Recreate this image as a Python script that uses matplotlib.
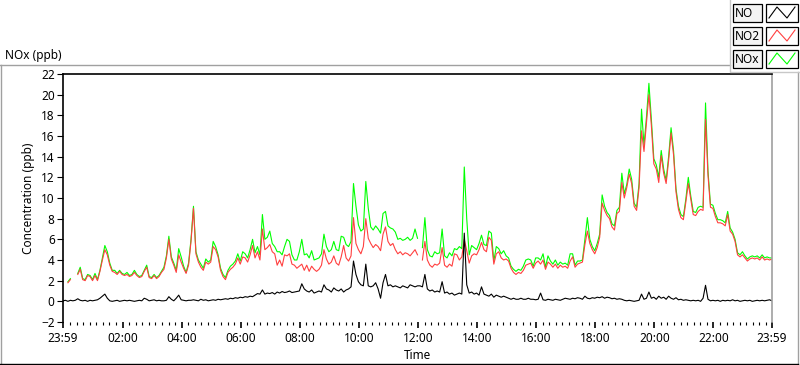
import numpy as np
import matplotlib
matplotlib.use('Agg')
import matplotlib.pyplot as plt
from matplotlib.lines import Line2D
from matplotlib.patches import Rectangle

nan = np.nan

# logger samples every 5 min, first one at 23:59 of the previous day
minutes = np.arange(289) * 5 - 1

no2 = [2.65, nan, 1.8, 2.1, nan, nan, 2.6, 3.1, 2.1, 2.0,
       2.5, 2.4, 2.0, 2.5, 2.0, 2.9, 4.0, 5.0, 4.5, 3.5,
       2.9, 2.8, 2.6, 2.9, 2.6, 2.5, 2.6, 2.4, 2.5, 2.8,
       2.5, 2.3, 2.4, 2.9, 3.3, 2.3, 2.2, 2.5, 2.2, 2.4,
       2.8, 3.1, 4.2, 6.0, 4.1, 3.5, 2.8, 4.5, 3.8, 3.2,
       2.7, 3.5, 5.8, 9.0, 4.6, 3.8, 3.3, 3.0, 3.8, 3.6,
       3.8, 5.3, 5.0, 4.3, 3.0, 2.4, 2.1, 2.8, 3.1, 3.3,
       3.6, 4.2, 3.6, 4.3, 4.2, 3.8, 4.5, 5.4, 4.2, 4.8,
       4.0, 7.0, 5.0, 5.2, 5.5, 4.8, 4.6, 3.5, 4.0, 3.4,
       4.5, 4.4, 4.6, 3.6, 3.5, 3.2, 3.4, 3.6, 3.0, 3.5,
       2.9, 3.4, 3.1, 2.9, 3.1, 3.5, 5.0, 4.1, 3.6, 3.8,
       4.4, 3.7, 3.5, 4.3, 5.4, 4.2, 3.9, 4.4, 8.1, 5.6,
       5.0, 4.6, 5.3, 8.0, 6.1, 5.6, 5.2, 5.5, 5.3, 4.9,
       6.5, 7.2, 5.8, 5.4, 5.6, 5.0, 4.6, 4.8, 4.5, 4.7,
       4.6, 4.4, 4.7, 5.0, 4.5, nan, 4.0, 5.8, 4.0, 3.5,
       3.3, 3.6, 3.5, 3.7, 5.2, 3.5, 3.3, 3.6, 3.4, 4.6,
       4.5, 4.0, 4.3, 6.0, 4.9, 3.7, 4.4, 4.6, 4.5, 5.0,
       5.7, 5.0, 4.8, 6.2, 5.9, 3.6, 4.6, 4.8, 4.2, 4.0,
       4.1, 3.9, 3.2, 2.8, 2.6, 2.8, 2.7, 3.0, 3.5, 3.6,
       3.7, 3.2, 3.7, 3.9, 3.6, 4.0, 3.1, 3.8, 3.6, 3.3,
       3.6, 3.2, 3.5, 3.3, 3.4, 3.2, 3.9, 4.3, 3.3, 3.6,
       3.7, 3.8, 5.5, 6.8, 5.6, 5.0, 4.6, 5.2, 6.2, 9.5,
       8.8, 8.3, 8.0, 7.2, 6.9, 8.5, 8.7, 11.5, 10.0, 11.0,
       12.3, 11.4, 9.2, 8.8, 11.0, 16.5, 14.5, 17.2, 20.0, 17.0,
       13.3, 12.8, 11.5, 14.1, 12.4, 11.4, 13.6, 16.3, 14.2, 10.6,
       8.9, 8.1, 7.9, 9.6, 11.4, 9.9, 8.4, 8.3, 8.7, 8.9,
       8.8, 17.6, 12.2, 9.1, 9.0, 8.2, 7.6, 7.6, 7.5, 7.3,
       8.4, 6.8, 6.5, 5.8, 4.5, 4.3, 4.5, 4.2, 3.9, 4.1,
       4.2, 4.1, 4.2, 4.0, 4.3, 4.0, 4.1, 4.0, 4.1]

nox = [2.75, nan, 1.9, 2.2, nan, nan, 2.7, 3.3, 2.2, 2.1,
       2.6, 2.5, 2.1, 2.7, 2.1, 3.0, 4.2, 5.4, 4.8, 3.7,
       3.0, 3.0, 2.7, 3.0, 2.7, 2.6, 2.8, 2.5, 2.6, 3.0,
       2.6, 2.4, 2.5, 3.0, 3.5, 2.4, 2.3, 2.6, 2.3, 2.5,
       2.9, 3.3, 4.4, 6.3, 4.3, 3.7, 3.0, 5.1, 4.3, 3.4,
       2.8, 3.7, 6.0, 9.2, 4.8, 4.0, 3.6, 3.2, 4.1, 3.8,
       4.0, 5.8, 5.3, 4.5, 3.2, 2.6, 2.3, 3.0, 3.4, 3.6,
       3.9, 4.6, 3.9, 4.8, 4.6, 4.2, 5.0, 6.0, 4.7, 5.3,
       4.5, 8.4, 6.0, 6.2, 6.8, 5.6, 5.3, 4.8, 4.8, 4.5,
       5.3, 6.0, 5.8, 4.5, 4.0, 4.0, 4.8, 6.0, 4.5, 4.6,
       4.2, 4.9, 4.0, 4.1, 4.2, 4.6, 6.5, 5.3, 4.8, 5.0,
       5.8, 5.0, 4.9, 6.3, 6.2, 5.5, 5.3, 5.8, 11.4, 9.2,
       7.4, 6.8, 7.0, 11.6, 9.0, 7.2, 6.9, 7.3, 7.0, 6.6,
       8.5, 8.7, 7.3, 7.1, 7.0, 6.7, 6.0, 6.1, 5.9, 6.0,
       6.2, 5.9, 6.1, 7.0, 6.1, nan, 5.2, 8.1, 5.0, 4.4,
       4.3, 4.8, 4.6, 4.7, 7.0, 4.4, 4.2, 4.7, 4.4, 5.1,
       5.0, 5.3, 5.1, 13.0, 8.0, 4.5, 5.4, 5.2, 5.0, 5.6,
       6.4, 5.5, 5.4, 6.8, 6.6, 3.9, 5.3, 5.1, 4.6, 4.9,
       4.4, 4.2, 3.4, 3.1, 2.9, 3.1, 3.0, 3.4, 4.0, 4.1,
       4.0, 3.4, 4.2, 4.2, 4.0, 4.6, 3.3, 4.4, 3.9, 3.6,
       4.0, 3.5, 3.8, 3.6, 3.7, 3.5, 4.6, 4.6, 3.5, 3.9,
       3.9, 4.0, 6.0, 8.1, 6.0, 5.3, 4.9, 5.6, 6.5, 10.3,
       9.2, 8.6, 8.3, 7.5, 7.3, 8.8, 9.1, 12.4, 10.4, 11.3,
       12.8, 11.8, 9.5, 9.1, 11.4, 18.6, 15.1, 17.8, 21.1, 17.6,
       13.8, 13.2, 12.0, 14.6, 12.8, 11.7, 14.0, 16.8, 14.6, 10.9,
       9.2, 8.4, 8.2, 9.9, 12.0, 10.2, 8.7, 8.6, 9.1, 9.2,
       9.1, 19.2, 12.6, 9.4, 9.3, 8.5, 7.9, 7.9, 7.8, 7.6,
       8.7, 7.1, 6.7, 6.0, 4.7, 4.5, 4.8, 4.4, 4.1, 4.3,
       4.4, 4.3, 4.4, 4.2, 4.5, 4.2, 4.3, 4.2, 4.2]

no = [0.05, 0.1, 0.0, 0.1, 0.05, 0.1, 0.25, 0.1, 0.05, 0.1,
      0.0, 0.1, 0.05, 0.1, 0.15, 0.3, 0.5, 0.7, 0.3, 0.05,
      0.0, 0.05, 0.1, 0.0, 0.05, 0.1, 0.05, 0.1, 0.05, 0.0,
      0.05, 0.1, 0.05, 0.3, 0.2, 0.05, 0.1, 0.15, 0.05, 0.1,
      0.05, 0.05, 0.1, 0.45, 0.2, 0.05, 0.3, 0.6, 0.15, 0.1,
      0.05, 0.1, 0.1, 0.15, 0.1, 0.05, 0.2, 0.1, 0.15, 0.05,
      0.1, 0.15, 0.1, 0.2, 0.15, 0.2, 0.25, 0.2, 0.3, 0.25,
      0.35, 0.3, 0.4, 0.35, 0.45, 0.4, 0.5, 0.45, 0.6, 0.75,
      0.7, 1.1, 0.7, 0.8, 0.75, 0.85, 0.7, 0.9, 0.8, 0.95,
      0.85, 0.9, 1.0, 0.85, 0.9, 0.95, 1.0, 1.7, 1.2, 1.0,
      0.9, 1.1, 0.8, 0.9, 1.0, 0.9, 1.6, 1.2, 1.1, 0.9,
      1.3, 1.1, 1.0, 1.2, 0.9, 1.1, 1.2, 1.4, 3.9, 2.6,
      1.9, 1.6, 1.5, 3.6, 1.5, 1.4, 1.5, 1.8, 1.2, 0.3,
      1.8, 2.6, 1.5, 1.6, 1.4, 1.5, 1.4, 1.3, 1.5, 1.4,
      1.3, 1.6, 1.5, 1.4, 1.5, 1.5, 1.4, 2.6, 1.2, 1.0,
      1.1, 0.9, 1.0, 0.9, 1.9, 0.8, 0.9, 0.7, 0.8, 0.6,
      0.7, 0.8, 0.7, 6.6, 1.6, 0.8, 0.9, 0.7, 0.8, 0.6,
      1.4, 0.7, 0.6, 0.5, 0.7, 0.4, 0.6, 0.5, 0.4, 0.5,
      0.4, 0.3, 0.2, 0.3, 0.2, 0.2, 0.3, 0.2, 0.2, 0.3,
      0.2, 0.2, 0.15, 0.2, 0.8, 0.15, 0.1, 0.2, 0.15, 0.1,
      0.2, 0.15, 0.1, 0.2, 0.3, 0.25, 0.2, 0.3, 0.25, 0.35,
      0.3, 0.2, 0.5, 0.3, 0.25, 0.35, 0.3, 0.4, 0.35, 0.45,
      0.3, 0.4, 0.35, 0.25, 0.3, 0.2, 0.25, 0.2, 0.1, 0.05,
      0.1, 0.05, 0.0, 0.05, 0.1, 0.7, 0.2, 0.3, 0.9, 0.3,
      0.4, 0.2, 0.5, 0.3, 0.4, 0.2, 0.5, 0.3, 0.2, 0.35,
      0.15, 0.2, 0.1, 0.15, 0.1, 0.05, 0.1, 0.05, 0.1, 0.0,
      0.3, 1.55, 0.2, 0.05, 0.1, 0.05, 0.1, 0.0, 0.1, 0.05,
      0.1, 0.05, 0.15, 0.05, 0.1, 0.0, 0.05, 0.1, 0.05, 0.1,
      0.0, 0.05, 0.1, 0.05, 0.1, 0.05, 0.1, 0.15, 0.05]

series_names = ['NO', 'NO2', 'NOx']
series_colors = ['black', '#ff4040', '#00ff00']

tick_pos = [-1, 120, 240, 360, 480, 600, 720, 840, 960, 1080, 1200, 1320, 1439]
tick_labels = ['23:59', '02:00', '04:00', '06:00', '08:00', '10:00', '12:00',
               '14:00', '16:00', '18:00', '20:00', '22:00', '23:59']

plt.rcParams['font.family'] = ['Noto Sans', 'DejaVu Sans']

W, H = 800, 365
fig = plt.figure(figsize=(W / 100, H / 100), dpi=100)

def fx(x):
    return x / W

def fy(y):
    return 1 - y / H

ax = fig.add_axes([fx(63), fy(322), fx(772) - fx(63), fy(74) - fy(322)])
ax.plot(minutes, nox, color=series_colors[2], lw=0.8)
ax.plot(minutes, no2, color=series_colors[1], lw=0.8)
ax.plot(minutes, no, color=series_colors[0], lw=0.8)

ax.set_xlim(-1, 1439)
ax.set_ylim(-2, 22)
ax.set_yticks(range(-2, 23, 2))
ax.set_xticks(tick_pos)
ax.set_xticklabels(tick_labels)
minor = [m for m in np.arange(0, 1440, 120 / 9) if m % 120 > 1e-6 and 120 - m % 120 > 1e-6]
ax.set_xticks(minor, minor=True)
ax.tick_params(axis='both', labelsize=8.5, colors='black', width=0.8)
ax.tick_params(axis='y', length=4, pad=2)
ax.tick_params(axis='x', which='major', length=4, pad=3, width=1.2)
ax.tick_params(axis='x', which='minor', length=2.5, width=0.8)
ax.spines['bottom'].set_visible(False)
ax.spines['left'].set_linewidth(1.2)
ax.spines['top'].set_linewidth(1.2)
ax.spines['right'].set_color('#a0a0a0')
ax.spines['right'].set_linewidth(1.2)
ax.set_ylabel('Concentration (ppb)', fontsize=8.5, labelpad=4)
ax.set_xlabel('Time', fontsize=8.5, labelpad=3)

# panel caption and frame
fig.text(fx(5), fy(56), 'NOx (ppb)', fontsize=8.5, va='center', ha='left')
frame = '#a0a0a0'
fig.add_artist(Line2D([0, fx(730)], [fy(64.5), fy(64.5)], color=frame, lw=1, transform=fig.transFigure))
fig.add_artist(Line2D([fx(0.5), fx(0.5)], [fy(64.5), fy(364)], color=frame, lw=1, transform=fig.transFigure))
fig.add_artist(Line2D([fx(797.5), fx(797.5)], [fy(72), fy(364)], color=frame, lw=1, transform=fig.transFigure))
fig.add_artist(Line2D([0, fx(798)], [fy(363.5), fy(363.5)], color='black', lw=1, transform=fig.transFigure))
fig.add_artist(Line2D([fx(730), fx(730), fx(800)], [fy(0), fy(72), fy(72)], color='#c8c8c8', lw=1, transform=fig.transFigure))

# plot legend
for i, (name, col) in enumerate(zip(series_names, series_colors)):
    top = 4 + i * 23
    fig.add_artist(Rectangle((fx(733), fy(top + 18)), fx(762) - fx(733), fy(top) - fy(top + 18),
                             transform=fig.transFigure, facecolor='#f4f4f4', edgecolor='black', lw=0.9))
    fig.text(fx(735), fy(top + 9.5), name, fontsize=8.5, va='center', ha='left')
    fig.add_artist(Rectangle((fx(766), fy(top + 18)), fx(798) - fx(766), fy(top) - fy(top + 18),
                             transform=fig.transFigure, facecolor='white', edgecolor='black', lw=0.9))
    fig.add_artist(Line2D([fx(769), fx(777), fx(787), fx(795)],
                          [fy(top + 14), fy(top + 3), fy(top + 14), fy(top + 3)],
                          color=col, lw=0.8, transform=fig.transFigure))

fig.savefig('out.png', dpi=100)
